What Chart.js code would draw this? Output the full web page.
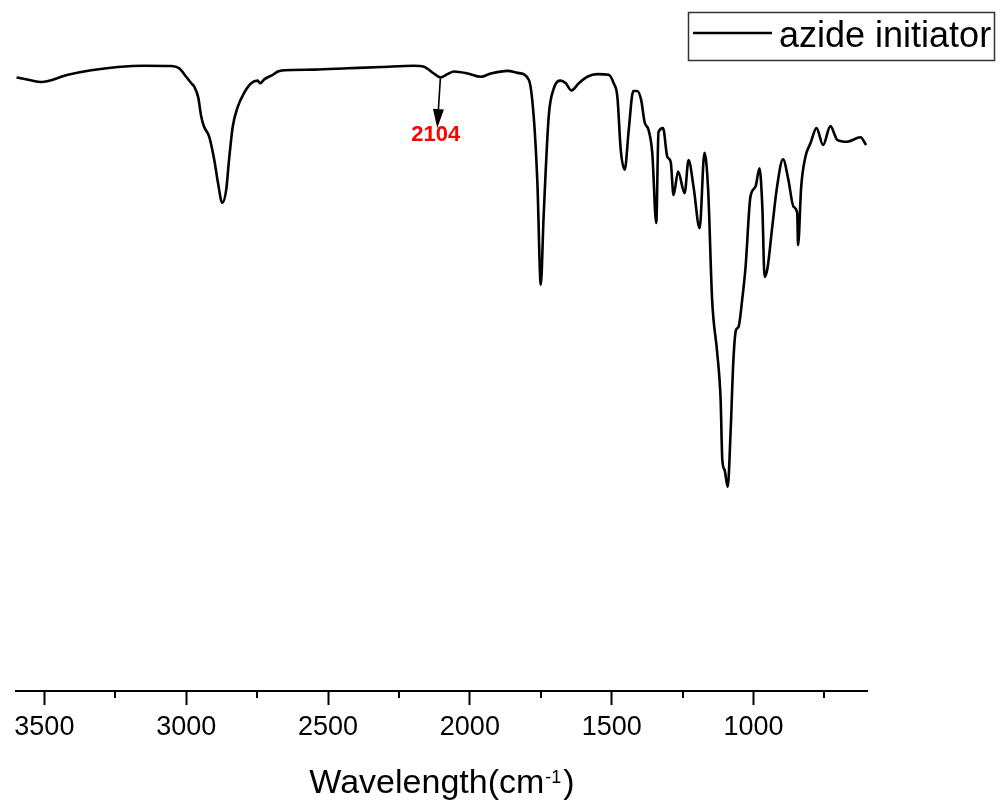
<!DOCTYPE html>
<html><head><meta charset="utf-8">
<script src="https://cdn.jsdelivr.net/npm/chart.js@4/dist/chart.umd.min.js"></script>
<style>html,body{margin:0;padding:0;background:#fff;overflow:hidden}</style>
</head><body>
<canvas id="c" width="1000" height="806"></canvas>
<script>
// ---- data (wavenumber cm-1, transmittance a.u.) ----
const wavenumbers = [3598,3553,3511,3417,3335,3241,3148,3053,3025,3000,2982,2972,2958,2947,2937,2919,2901,2888,2873,2859,2849,2836,2818,2796,2771,2748,2739,2725,2695,2677,2655,2549,2431,2313,2197,2162,2127,2104,2079,2056,2008,1961,1926,1867,1832,1792,1775,1762,1750,1740,1722,1704,1680,1662,1642,1616,1586,1550,1511,1493,1480,1468,1454,1440,1424,1410,1396,1384,1370,1357,1343,1335,1319,1304,1292,1282,1266,1243,1229,1211,1190,1173,1160,1146,1128,1116,1110,1102,1091,1081,1071,1062,1053,1040,1028,1011,993,979,969,961,951,934,917,896,877,859,846,843,832,817,799,778,755,729,705,670,623,603];
const transmittance = [94.4,94.0,93.7,94.8,95.5,96.0,96.2,96.15,95.8,94.5,93.5,93.0,91.4,88.4,86.8,85.3,81.7,78.2,75.1,77.1,81.7,86.8,89.9,92.0,93.5,93.9,93.5,94.1,94.8,95.3,95.5,95.6,95.8,96.0,96.2,96.05,95.0,94.4,94.9,95.3,95.0,94.5,95.0,95.4,95.1,94.0,88.4,78.2,62.5,73.0,88.4,92.7,93.9,93.5,92.4,93.5,94.5,94.9,94.8,93.5,91.4,83.2,80.2,86.3,92.3,92.3,90.9,87.5,86.3,82.8,72.0,86.0,86.6,82.2,81.4,76.3,79.9,76.6,81.7,77.4,71.2,82.8,77.1,60.2,52.0,44.8,35.5,34.0,31.4,39.7,50.9,55.5,56.0,60.2,65.3,76.0,77.6,80.4,74.5,63.7,65.0,71.4,77.6,81.8,78.6,74.5,73.5,68.6,77.6,82.2,84.3,86.6,84.0,86.9,84.8,84.5,85.2,84.0];
const majorTicks = [3500,3000,2500,2000,1500,1000];
const minorTicks = [3250,2750,2250,1750,1250,750];
const seriesLabel = 'azide initiator';
const axisTitleParts = ['Wavelength(cm', '-1', ')'];
const peakLabel = '2104';
const peakWavenumber = 2104;
const peakArrowTip = [2115, 86.6];
const peakLabelPos = [2120, 85.6];

const FONT = '"Liberation Sans", Arial, sans-serif';

const extras = {
  id: 'extras',
  afterDraw(chart) {
    const ctx = chart.ctx, xs = chart.scales.x, ys = chart.scales.y, ca = chart.chartArea;
    ctx.save();
    // minor ticks
    ctx.strokeStyle = '#000'; ctx.lineWidth = 2;
    minorTicks.forEach(v => {
      const px = Math.round(xs.getPixelForValue(v));
      ctx.beginPath(); ctx.moveTo(px, ca.bottom); ctx.lineTo(px, ca.bottom + 7); ctx.stroke();
    });
    // axis title with superscript
    const cx = (ca.left + ca.right) / 2;
    ctx.fillStyle = '#000'; ctx.textBaseline = 'alphabetic';
    const f1 = '34px ' + FONT, f2 = '18px ' + FONT;
    ctx.font = f1; const w1 = ctx.measureText(axisTitleParts[0]).width, w3 = ctx.measureText(axisTitleParts[2]).width;
    ctx.font = f2; const w2 = ctx.measureText(axisTitleParts[1]).width + 2;
    let sx = cx - (w1 + w2 + w3) / 2; const by = 793;
    ctx.font = f1; ctx.textAlign = 'left'; ctx.fillText(axisTitleParts[0], sx, by); sx += w1 + 1;
    ctx.font = f2; ctx.fillText(axisTitleParts[1], sx, by - 10); sx += w2;
    ctx.font = f1; ctx.fillText(axisTitleParts[2], sx, by);
    // legend box
    ctx.lineWidth = 1.5; ctx.strokeStyle = '#333';
    ctx.strokeRect(688.5, 12.5, 306, 48);
    ctx.strokeStyle = '#000'; ctx.lineWidth = 2.6;
    ctx.beginPath(); ctx.moveTo(693, 33); ctx.lineTo(772, 33); ctx.stroke();
    ctx.font = '36px ' + FONT; ctx.fillStyle = '#000'; ctx.textAlign = 'left';
    ctx.fillText(chart.data.datasets[0].label, 779, 47);
    // peak annotation
    const i = wavenumbers.indexOf(peakWavenumber);
    const x0 = xs.getPixelForValue(peakWavenumber), y0 = ys.getPixelForValue(transmittance[i]) + 1;
    const x1 = xs.getPixelForValue(peakArrowTip[0]), y1 = ys.getPixelForValue(peakArrowTip[1]);
    const ang = Math.atan2(y1 - y0, x1 - x0);
    const hl = 19, hw = 5.5;
    const bx = x1 - hl * Math.cos(ang), byy = y1 - hl * Math.sin(ang);
    ctx.strokeStyle = '#000'; ctx.lineWidth = 1.6;
    ctx.beginPath(); ctx.moveTo(x0, y0); ctx.lineTo(bx, byy); ctx.stroke();
    ctx.fillStyle = '#000';
    ctx.beginPath(); ctx.moveTo(x1, y1);
    ctx.lineTo(bx + hw * Math.sin(ang), byy - hw * Math.cos(ang));
    ctx.lineTo(bx - hw * Math.sin(ang), byy + hw * Math.cos(ang));
    ctx.closePath(); ctx.fill();
    ctx.fillStyle = '#ff0000'; ctx.font = 'bold 22px ' + FONT; ctx.textAlign = 'center'; ctx.textBaseline = 'middle';
    ctx.fillText(peakLabel, xs.getPixelForValue(peakLabelPos[0]), ys.getPixelForValue(peakLabelPos[1]));
    ctx.restore();
  }
};

new Chart(document.getElementById('c'), {
  type: 'line',
  data: { datasets: [{
    label: seriesLabel,
    data: wavenumbers.map((w, i) => ({ x: w, y: transmittance[i] })),
    borderColor: '#000', borderWidth: 2.6, pointRadius: 0, fill: false,
    cubicInterpolationMode: 'monotone'
  }]},
  options: {
    responsive: false, animation: false, devicePixelRatio: 1,
    layout: { padding: { left: 16, right: 133, top: 41, bottom: 0 } },
    plugins: { legend: { display: false }, tooltip: { enabled: false } },
    scales: {
      x: {
        type: 'linear', reverse: true, min: 600, max: 3600,
        afterBuildTicks(s) { s.ticks = majorTicks.map(v => ({ value: v })); },
        afterFit(s) { s.height = 115; s.paddingLeft = 0; s.paddingRight = 0; },
        grid: { drawOnChartArea: false, tickLength: 14, tickWidth: 2, tickColor: '#000' },
        border: { color: '#000', width: 2 },
        ticks: { color: '#000', font: { family: FONT, size: 27 }, padding: 6, maxRotation: 0, autoSkip: false,
                 callback: v => String(v) }
      },
      y: { display: false, min: 0, max: 100 }
    }
  },
  plugins: [extras]
});
</script>
</body></html>
